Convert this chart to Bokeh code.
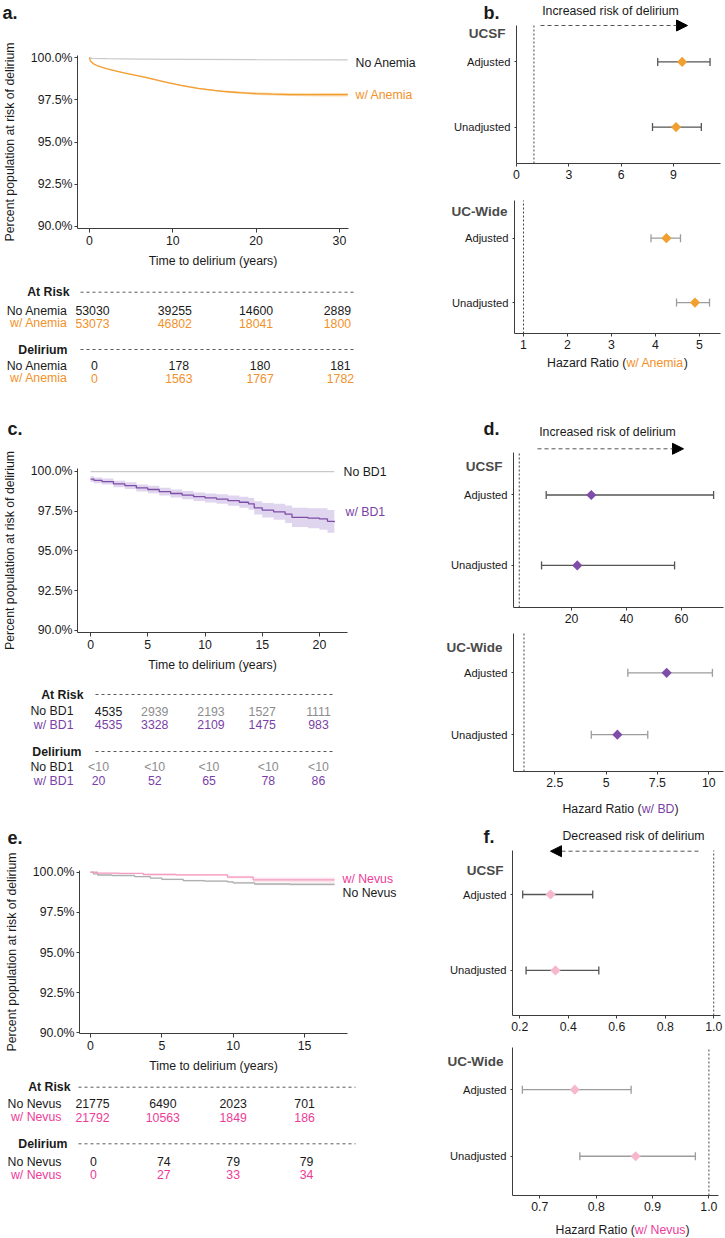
import numpy as np
from bokeh.embed import file_html
from bokeh.layouts import column, row
from bokeh.models import (Arrow, ColumnDataSource, FixedTicker, Label, LinearAxis, NormalHead,
                          PrintfTickFormatter, Range1d, TeeHead, Whisker)
from bokeh.plotting import figure
from bokeh.resources import INLINE

# ---------------- data: survival curves (time in years, % still at risk) ----------------
anemia_no_t = [0, 0.3, 2, 6, 12, 20, 31]
anemia_no_s = [100, 99.95, 99.93, 99.91, 99.89, 99.87, 99.86]

anemia_t = [0, 0.1, 0.5, 1, 2, 3, 4, 5, 6, 7, 8, 9, 10, 11, 12, 13, 14, 15, 16, 17, 18, 19, 20, 22, 24, 26, 28, 31]
anemia_s = [100, 99.8, 99.62, 99.5, 99.35, 99.22, 99.1, 99.0, 98.9, 98.79, 98.68, 98.56, 98.45, 98.35,
            98.26, 98.18, 98.11, 98.05, 98.0, 97.96, 97.92, 97.89, 97.86, 97.83, 97.81, 97.8, 97.8, 97.8]
anemia_ci = [0, 0.02, 0.02, 0.02, 0.02, 0.03, 0.03, 0.03, 0.03, 0.04, 0.04, 0.04, 0.04, 0.04,
             0.05, 0.05, 0.05, 0.05, 0.06, 0.06, 0.07, 0.07, 0.08, 0.08, 0.09, 0.09, 0.1, 0.1]

bd_no_t = [0, 21.3]
bd_no_s = [99.98, 99.98]

bd_t = [0, 0.3, 1, 2, 3, 4, 5, 6, 7, 8, 9, 10, 11, 12, 13, 13.8, 14.3, 15, 16, 17, 17.6, 19, 20, 20.7, 21.3]
bd_s = [99.5, 99.42, 99.35, 99.2, 99.1, 98.95, 98.85, 98.72, 98.6, 98.5, 98.4, 98.32, 98.25, 98.15,
        98.05, 97.95, 97.7, 97.55, 97.45, 97.3, 97.1, 97.05, 97.0, 96.85, 96.8]
bd_ci = [0.18, 0.18, 0.19, 0.2, 0.21, 0.22, 0.23, 0.24, 0.25, 0.26, 0.27, 0.28, 0.3, 0.32,
         0.34, 0.37, 0.42, 0.46, 0.5, 0.55, 0.6, 0.63, 0.67, 0.71, 0.73]

nevus_no_t = [0, 0.2, 0.5, 1.5, 3.1, 4.2, 5.0, 6.5, 8.0, 9.6, 10.0, 11.5, 14.0, 17.1]
nevus_no_s = [100, 99.9, 99.83, 99.8, 99.73, 99.64, 99.56, 99.48, 99.45, 99.4, 99.34, 99.27, 99.25, 99.25]
nevus_no_ci = [0, 0.02, 0.03, 0.03, 0.04, 0.04, 0.05, 0.05, 0.05, 0.06, 0.07, 0.08, 0.09, 0.1]

nevus_t = [0, 0.5, 2.0, 3.7, 6.0, 9.6, 11.4, 14.0, 17.1]
nevus_s = [100, 99.95, 99.93, 99.86, 99.84, 99.7, 99.53, 99.52, 99.52]
nevus_ci = [0, 0.02, 0.03, 0.04, 0.05, 0.08, 0.14, 0.16, 0.18]

# ---------------- data: numbers at risk / cumulative delirium ----------------
anemia_table_t = [0, 10, 20, 30]
no_anemia_risk = [53030, 39255, 14600, 2889]
anemia_risk = [53073, 46802, 18041, 1800]
no_anemia_delirium = [0, 178, 180, 181]
anemia_delirium = [0, 1563, 1767, 1782]

bd_table_t = [0, 5, 10, 15, 20]
no_bd_risk = [4535, 2939, 2193, 1527, 1111]
bd_risk = [4535, 3328, 2109, 1475, 983]
no_bd_delirium = ["<10", "<10", "<10", "<10", "<10"]
bd_delirium = [20, 52, 65, 78, 86]

nevus_table_t = [0, 5, 10, 15]
no_nevus_risk = [21775, 6490, 2023, 701]
nevus_risk = [21792, 10563, 1849, 186]
no_nevus_delirium = [0, 74, 79, 79]
nevus_delirium = [0, 27, 33, 34]

# ---------------- data: hazard ratios (Adjusted, Unadjusted) ----------------
models = ["Adjusted", "Unadjusted"]
anemia_ucsf_hr, anemia_ucsf_lo, anemia_ucsf_hi = [9.5, 9.15], [8.1, 7.8], [11.1, 10.6]
anemia_ucw_hr, anemia_ucw_lo, anemia_ucw_hi = [4.25, 4.9], [3.9, 4.48], [4.57, 5.23]
bd_ucsf_hr, bd_ucsf_lo, bd_ucsf_hi = [27.2, 22.1], [10.8, 9.1], [71.7, 57.5]
bd_ucw_hr, bd_ucw_lo, bd_ucw_hi = [7.95, 5.55], [6.06, 4.28], [10.18, 7.03]
nevus_ucsf_hr, nevus_ucsf_lo, nevus_ucsf_hi = [0.327, 0.347], [0.212, 0.226], [0.501, 0.526]
nevus_ucw_hr, nevus_ucw_lo, nevus_ucw_hi = [0.762, 0.87], [0.669, 0.771], [0.862, 0.976]

# ---------------- style ----------------
FONT = "Liberation Sans"
FS = "12.3px"
TXT = "#1a1a1a"
AXIS = "#3c3c3c"
GRAY_TXT = "#8c8c8c"
GRAY_LINE = "#c9c9c9"
GRAY_BAND = "#e4e4e4"
ORANGE = "#F39C32"
ORANGE_TXT = "#F2912A"
ORANGE_BAND = "#F8D39C"
ORANGE_MARK = "#F0A030"
PURPLE = "#7D4DA8"
PURPLE_TXT = "#7A3FA6"
PURPLE_BAND = "#D8CBEA"
PINK = "#F39BC0"
PINK_TXT = "#EC3C97"
PINK_BAND = "#FBDDE8"
PINK_MARK = "#F5B8CD"
BAR_DARK = "#555555"
BAR_LIGHT = "#9c9c9c"
GROUP_TXT = "#4a4a4a"
LETTER = "18px"

# Arial / Liberation Sans advance widths (per 1000 em) for composing coloured titles
ADV = {" ": 278, "(": 333, ")": 333, "/": 278, "A": 667, "B": 667, "D": 722, "H": 722, "N": 722,
       "R": 722, "a": 556, "d": 556, "e": 556, "i": 222, "m": 833, "n": 556, "o": 556, "r": 333,
       "s": 500, "t": 278, "u": 556, "v": 500, "w": 722, "z": 500}


def text_width(s, px=12.3):
    return sum(ADV.get(ch, 556) for ch in s) * px / 1000.0


def style_axis(ax):
    ax.axis_line_color = AXIS
    ax.major_tick_line_color = AXIS
    ax.minor_tick_line_color = None
    ax.major_tick_in = 0
    ax.major_tick_out = 3
    ax.major_label_standoff = 3
    ax.major_label_text_font = FONT
    ax.major_label_text_font_size = FS
    ax.major_label_text_color = TXT
    ax.axis_label_text_font = FONT
    ax.axis_label_text_font_size = FS
    ax.axis_label_text_font_style = "normal"
    ax.axis_label_text_color = TXT


def make_fig(left, top, w, h, region, xr, yr):
    """The canvas is one big frame; `region` (page pixels) is where the data
    ranges xr / yr sit, and the axes are pinned to its left and bottom edges."""
    fl, ft, fr, fb = region
    kx = (xr[1] - xr[0]) / (fr - fl)
    ky = (yr[1] - yr[0]) / (fb - ft)
    x_full = (xr[0] - (fl - left) * kx, xr[1] + (left + w - fr) * kx)
    y_full = (yr[0] - (top + h - fb) * ky, yr[1] + (ft - top) * ky)
    p = figure(width=w, height=h, x_range=Range1d(*x_full), y_range=Range1d(*y_full),
               x_axis_location=None, y_axis_location=None,
               output_backend="svg", toolbar_location=None,
               min_border=0, min_border_left=0, min_border_right=0,
               min_border_top=0, min_border_bottom=0)
    p.outline_line_color = None
    p.background_fill_color = "white"
    p.border_fill_color = "white"
    p.grid.visible = False
    xaxis = LinearAxis(fixed_location=yr[0], bounds=xr)
    yaxis = LinearAxis(fixed_location=xr[0], bounds=yr)
    style_axis(xaxis)
    style_axis(yaxis)
    p.add_layout(xaxis, "below")
    p.add_layout(yaxis, "left")
    return p, (left, top + h), xaxis, yaxis


def put(p, g, x, y, s, align="left", color=TXT, bold=False, size=FS, data_x=False, dx=0):
    p.add_layout(Label(x=x if data_x else x - g[0], x_units="data" if data_x else "screen",
                       y=g[1] - y, y_units="screen", x_offset=dx, text=s,
                       text_align=align, text_baseline="middle", text_font=FONT,
                       text_font_size=size, text_color=color,
                       text_font_style="bold" if bold else "normal"))


def hline(p, g, x0, x1, y, dash="3 3", color="#5a5a5a", head=None):
    p.add_layout(Arrow(x_start=x0 - g[0], y_start=g[1] - y, x_end=x1 - g[0], y_end=g[1] - y,
                       start_units="screen", end_units="screen", start=None, end=head,
                       line_color=color, line_dash=dash, line_width=1))


def step_band(t, s, ci):
    xs, lo, hi = [], [], []
    for i in range(len(t)):
        x_end = t[i + 1] if i + 1 < len(t) else t[i]
        xs += [t[i], x_end]
        lo += [s[i] - ci[i]] * 2
        hi += [s[i] + ci[i]] * 2
    return xs, lo, hi


def add_curve(p, t, s, ci, line_color, band_color, smooth=False):
    if ci is not None:
        if smooth:
            p.varea(x=t, y1=[a - b for a, b in zip(s, ci)], y2=[a + b for a, b in zip(s, ci)],
                    fill_color=band_color, fill_alpha=0.8)
        else:
            xs, lo, hi = step_band(t, s, ci)
            p.varea(x=xs, y1=lo, y2=hi, fill_color=band_color, fill_alpha=0.8)
    if smooth:
        p.line(x=t, y=s, line_color=line_color, line_width=1.3)
    else:
        p.step(x=t, y=s, mode="after", line_color=line_color, line_width=1.3)


def km_figure(top, h, region, xr, yr, xticks):
    p, g, xa, ya = make_fig(0, top, 440, h, region, xr, yr)
    xa.ticker = FixedTicker(ticks=xticks)
    xa.major_tick_out = 4
    xa.axis_label = "Time to delirium (years)"
    xa.axis_label_standoff = 6
    ya.ticker = FixedTicker(ticks=[90, 92.5, 95, 97.5, 100])
    ya.formatter = PrintfTickFormatter(format="%.1f%%")
    ya.major_label_standoff = 2
    ya.axis_label = "Percent population at risk of delirium"
    ya.axis_label_standoff = 11
    return p, g


def table_block(p, g, header, hx, hy, line_x, label_x, times, rows, offsets):
    put(p, g, hx, hy, header, align="right", bold=True)
    hline(p, g, line_x[0], line_x[1], hy)
    for name, name_color, vals, colors, y in rows:
        put(p, g, label_x, y, name, align="right", color=name_color)
        for t, v, c, dx in zip(times, vals, colors, offsets):
            put(p, g, t, y, str(v), align="center", color=c, data_x=True, dx=dx)


def forest_figure(top, h, region, xr, yr, xticks, xlabels, hr, lo, hi, mark_color, bar_color):
    p, g, xa, ya = make_fig(440, top, 285, h, region, xr, yr)
    xa.ticker = FixedTicker(ticks=xticks)
    xa.major_label_overrides = dict(zip(xticks, xlabels))
    ypos = [2, 1]
    ya.ticker = FixedTicker(ticks=ypos)
    ya.major_label_overrides = dict(zip(ypos, models))
    ya.major_label_text_font_size = "11.2px"
    ya.major_tick_out = 2
    ya.major_label_standoff = 4
    # reference line at HR = 1 across the plotting region
    p.segment(x0=[1], y0=[yr[0]], x1=[1], y1=[yr[1]], line_color="#444444",
              line_dash="2 2", line_width=1)
    src = ColumnDataSource(dict(y=ypos, hr=hr, lo=lo, hi=hi))
    p.add_layout(Whisker(source=src, base="y", lower="lo", upper="hi", dimension="width",
                         line_color=bar_color, line_width=1.3,
                         upper_head=TeeHead(size=8, line_color=bar_color, line_width=1.3),
                         lower_head=TeeHead(size=8, line_color=bar_color, line_width=1.3)))
    p.scatter("hr", "y", source=src, marker="square", angle=np.pi / 4, size=7.2,
              fill_color=mark_color, line_color=None)
    return p, g


def hr_title(p, g, cx, y, group, color):
    a, b, c = "Hazard Ratio (", group, ")"
    x0 = cx - (text_width(a) + text_width(b) + text_width(c)) / 2
    put(p, g, x0, y, a)
    put(p, g, x0 + text_width(a), y, b, color=color)
    put(p, g, x0 + text_width(a) + text_width(b), y, c)


def risk_arrow(p, g, cx, ty, x0, x1, ay, label):
    put(p, g, cx, ty, label, align="center")
    hline(p, g, x0, x1, ay, dash="4 3", color="#555555",
          head=NormalHead(size=11, fill_color="black", line_color="black"))


# ======================= panel a =======================
pa, ga = km_figure(0, 410, (77, 55, 348, 228), (-1.44, 31.09), (89.88, 100.12), anemia_table_t)
add_curve(pa, anemia_no_t, anemia_no_s, None, GRAY_LINE, None, smooth=True)
add_curve(pa, anemia_t, anemia_s, anemia_ci, ORANGE, ORANGE_BAND, smooth=True)
put(pa, ga, 2, 12, "a.", bold=True, size=LETTER)
put(pa, ga, 355, 62, "No Anemia")
put(pa, ga, 355, 94, "w/ Anemia", color=ORANGE_TXT)
table_block(pa, ga, "At Risk", 69, 291.7, (80, 355), 67, anemia_table_t,
            [("No Anemia", TXT, no_anemia_risk, [TXT] * 4, 310),
             ("w/ Anemia", ORANGE_TXT, anemia_risk, [ORANGE_TXT] * 4, 322.7)], [3, 2, 0, -2])
table_block(pa, ga, "Delirium", 67, 349, (80, 355), 67, anemia_table_t,
            [("No Anemia", TXT, no_anemia_delirium, [TXT] * 4, 365),
             ("w/ Anemia", ORANGE_TXT, anemia_delirium, [ORANGE_TXT] * 4, 377.7)], [5, 6, 4, 1])

# ======================= panel b =======================
pb1, gb1 = forest_figure(0, 185, (516, 25, 720, 163), (0, 11.7), (0.44, 2.56),
                         [0, 3, 6, 9], ["0", "3", "6", "9"],
                         anemia_ucsf_hr, anemia_ucsf_lo, anemia_ucsf_hi, ORANGE_MARK, BAR_DARK)
put(pb1, gb1, 483, 12, "b.", bold=True, size=LETTER)
risk_arrow(pb1, gb1, 610, 10, 540, 687, 25, "Increased risk of delirium")
put(pb1, gb1, 505, 33, "UCSF", align="right", bold=True, size="13.5px", color=GROUP_TXT)

pb2, gb2 = forest_figure(185, 225, (514, 200, 720, 333), (0.795, 5.48), (0.519, 2.585),
                         [1, 2, 3, 4, 5], ["1", "2", "3", "4", "5"],
                         anemia_ucw_hr, anemia_ucw_lo, anemia_ucw_hi, ORANGE_MARK, BAR_LIGHT)
put(pb2, gb2, 507, 211, "UC-Wide", align="right", bold=True, size="13.5px", color=GROUP_TXT)
hr_title(pb2, gb2, 617, 362, "w/ Anemia", ORANGE_TXT)

# ======================= panel c =======================
pc, gc = km_figure(410, 408, (77, 468, 347, 632), (-1.14, 22.45), (89.87, 100.17), bd_table_t)
add_curve(pc, bd_no_t, bd_no_s, None, GRAY_LINE, None)
add_curve(pc, bd_t, bd_s, bd_ci, PURPLE, PURPLE_BAND)
put(pc, gc, 7, 428, "c.", bold=True, size=LETTER)
put(pc, gc, 343, 471, "No BD1")
put(pc, gc, 345, 511, "w/ BD1", color=PURPLE_TXT)
table_block(pc, gc, "At Risk", 83, 694, (95, 333), 73, bd_table_t,
            [("No BD1", TXT, no_bd_risk, [TXT] + [GRAY_TXT] * 4, 710.7),
             ("w/ BD1", PURPLE_TXT, bd_risk, [PURPLE_TXT] * 5, 724)], [18, 7, 6, 0, -1])
table_block(pc, gc, "Delirium", 81, 751, (95, 333), 73, bd_table_t,
            [("No BD1", TXT, no_bd_delirium, [GRAY_TXT] * 5, 766.7),
             ("w/ BD1", PURPLE_TXT, bd_delirium, [PURPLE_TXT] * 5, 780)], [8, 7, 4, 6, -1])

# ======================= panel d =======================
pd1, gd1 = forest_figure(410, 218, (513, 452, 723, 607), (-1.1, 75.3), (0.403, 2.603),
                         [20, 40, 60], ["20", "40", "60"],
                         bd_ucsf_hr, bd_ucsf_lo, bd_ucsf_hi, PURPLE, BAR_DARK)
put(pd1, gd1, 483, 428, "d.", bold=True, size=LETTER)
risk_arrow(pd1, gd1, 607, 431.7, 537, 683, 448.3, "Increased risk of delirium")
put(pd1, gd1, 502, 466, "UCSF", align="right", bold=True, size="13.5px", color=GROUP_TXT)

pd2, gd2 = forest_figure(628, 190, (513, 633, 723, 771), (0.49, 10.72), (0.404, 2.636),
                         [2.5, 5, 7.5, 10], ["2.5", "5", "7.5", "10"],
                         bd_ucw_hr, bd_ucw_lo, bd_ucw_hi, PURPLE, BAR_LIGHT)
put(pd2, gd2, 502, 646.7, "UC-Wide", align="right", bold=True, size="13.5px", color=GROUP_TXT)
hr_title(pd2, gd2, 620, 808, "w/ BD", PURPLE_TXT)

# ======================= panel e =======================
pe, ge = km_figure(818, 420, (79, 870, 347, 1033), (-0.77, 18.01), (89.96, 100.11), nevus_table_t)
add_curve(pe, nevus_no_t, nevus_no_s, nevus_no_ci, "#b0b0b0", GRAY_BAND)
add_curve(pe, nevus_t, nevus_s, nevus_ci, PINK, PINK_BAND)
put(pe, ge, 7, 837, "e.", bold=True, size=LETTER)
put(pe, ge, 342, 878, "w/ Nevus", color=PINK_TXT)
put(pe, ge, 342, 892.7, "No Nevus")
table_block(pe, ge, "At Risk", 70, 1086.7, (78, 355), 61, nevus_table_t,
            [("No Nevus", TXT, no_nevus_risk, [TXT] * 4, 1103.3),
             ("w/ Nevus", PINK_TXT, nevus_risk, [PINK_TXT] * 4, 1116.7)], [2, 1, 0, 0])
table_block(pe, ge, "Delirium", 67, 1143.3, (78, 355), 61, nevus_table_t,
            [("No Nevus", TXT, no_nevus_delirium, [TXT] * 4, 1161),
             ("w/ Nevus", PINK_TXT, nevus_delirium, [PINK_TXT] * 4, 1174)], [3, 2, 0, 2])

# ======================= panel f =======================
pf1, gf1 = forest_figure(818, 219, (512, 850, 720, 1015), (0.17, 1.028), (0.406, 2.58),
                         [0.2, 0.4, 0.6, 0.8, 1.0], ["0.2", "0.4", "0.6", "0.8", "1.0"],
                         nevus_ucsf_hr, nevus_ucsf_lo, nevus_ucsf_hi, PINK_MARK, BAR_DARK)
put(pf1, gf1, 483, 836, "f.", bold=True, size=LETTER)
risk_arrow(pf1, gf1, 633, 835, 698, 550, 850.7, "Decreased risk of delirium")
put(pf1, gf1, 503, 870, "UCSF", align="right", bold=True, size="13.5px", color=GROUP_TXT)

pf2, gf2 = forest_figure(1037, 201, (512, 1047, 718, 1195), (0.6515, 1.017), (0.411, 2.633),
                         [0.7, 0.8, 0.9, 1.0], ["0.7", "0.8", "0.9", "1.0"],
                         nevus_ucw_hr, nevus_ucw_lo, nevus_ucw_hi, PINK_MARK, BAR_LIGHT)
put(pf2, gf2, 503, 1061, "UC-Wide", align="right", bold=True, size="13.5px", color=GROUP_TXT)
hr_title(pf2, gf2, 622, 1229, "w/ Nevus", PINK_TXT)

layout = column(
    row(pa, column(pb1, pb2)),
    row(pc, column(pd1, pd2)),
    row(pe, column(pf1, pf2)),
)

open("out.html", "w").write(file_html(layout, INLINE))
